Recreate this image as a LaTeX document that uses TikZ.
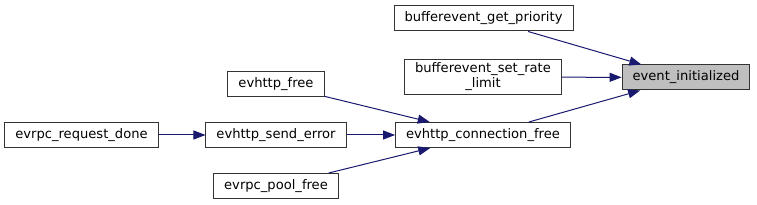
\documentclass[tikz,border=0pt]{standalone}
\usepackage{fontspec}
\setmainfont{DejaVu Sans}
\usetikzlibrary{arrows.meta}
\definecolor{setaazul}{RGB}{25, 25, 112}
\definecolor{caixacinza}{RGB}{191, 191, 191}

\begin{document}
\begin{tikzpicture}[
    x=1pt, y=-1pt,
    every node/.style={font=\fontsize{13.1}{15}\selectfont},
    funcbox/.style={draw=black!80, line width=1pt, fill=white,
        minimum height=25pt, inner xsep=10.5pt, inner ysep=2pt},
    chamada/.style={draw=setaazul, line width=1pt,
        -{Triangle[length=12pt, width=9pt]}}
]

\useasboundingbox (0,0) rectangle (757,205);

% ------------------------------------------------
% Funcao chamada
% ------------------------------------------------

\node[
    funcbox,
    fill=caixacinza
] (ei) at (686,77.5)
{event\_initialized};

% ------------------------------------------------
% Chamadores diretos
% ------------------------------------------------

\node[
    funcbox
] (gp) at (483.5,18.5)
{bufferevent\_get\_priority};

\node[
    funcbox,
    align=center,
    inner ysep=3pt
] (srl) at (483,77)
{bufferevent\_set\_rate\\\_limit};

\node[
    funcbox
] (cf) at (483,135)
{evhttp\_connection\_free};

% ------------------------------------------------
% Chamadores de evhttp_connection_free
% ------------------------------------------------

\node[
    funcbox
] (hf) at (276,84.5)
{evhttp\_free};

\node[
    funcbox
] (se) at (276,135)
{evhttp\_send\_error};

\node[
    funcbox
] (pf) at (276,186)
{evrpc\_pool\_free};

\node[
    funcbox
] (rd) at (81.5,135)
{evrpc\_request\_done};

% ------------------------------------------------
% Setas
% ------------------------------------------------

\draw[chamada] (gp) -- (ei);
\draw[chamada] (srl) -- (ei);
\draw[chamada] (cf) -- (ei);
\draw[chamada] (hf) -- (cf);
\draw[chamada] (se) -- (cf);
\draw[chamada] (pf) -- (cf);
\draw[chamada] (rd) -- (se);

\end{tikzpicture}
\end{document}
